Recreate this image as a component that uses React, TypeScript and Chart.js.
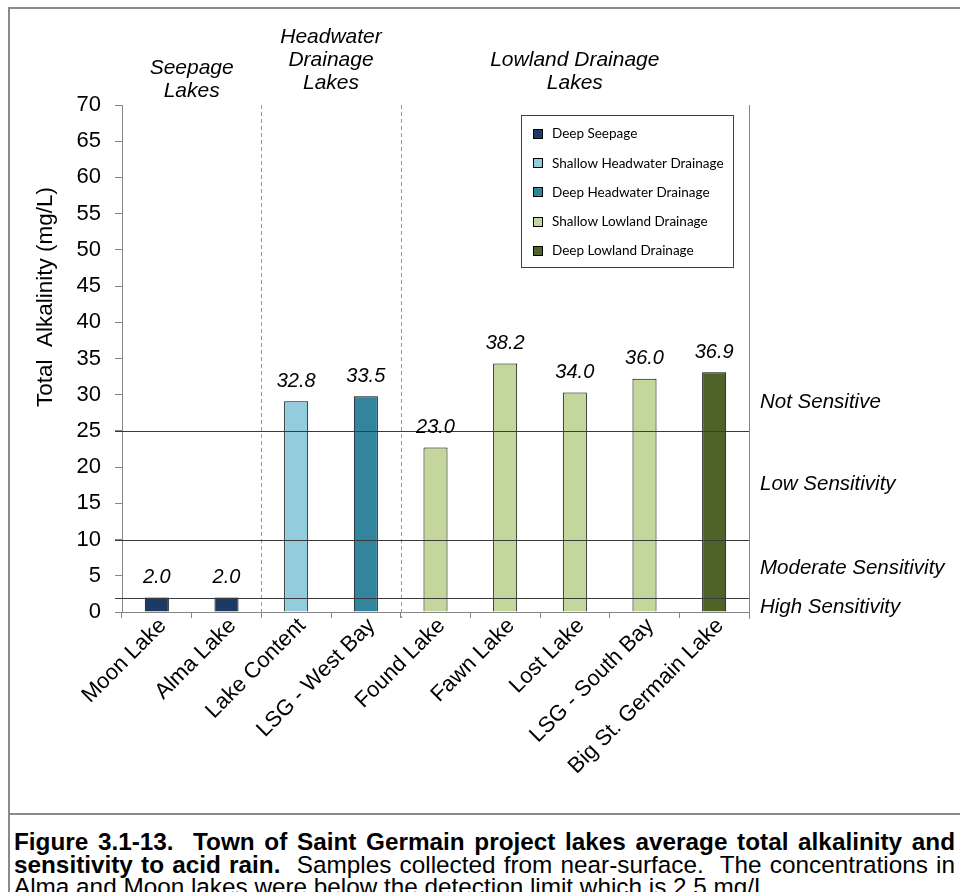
import React, { useEffect, useRef } from "react";
import { Chart, registerables } from "chart.js";

Chart.register(...registerables);

// ---------- data ----------
const categories = [
  "Moon Lake",
  "Alma Lake",
  "Lake Content",
  "LSG - West Bay",
  "Found Lake",
  "Fawn Lake",
  "Lost Lake",
  "LSG - South Bay",
  "Big St. Germain Lake",
];
// bar heights as drawn against the visible axis
const barHeights = [2.0, 2.0, 29.1, 29.8, 22.7, 34.3, 30.3, 32.2, 33.1];
// data-label texts printed above the bars
const valueLabels = ["2.0", "2.0", "32.8", "33.5", "23.0", "38.2", "34.0", "36.0", "36.9"];
const seriesNames = [
  "Deep Seepage",
  "Shallow Headwater Drainage",
  "Deep Headwater Drainage",
  "Shallow Lowland Drainage",
  "Deep Lowland Drainage",
];
const seriesOfCategory = [0, 0, 1, 2, 3, 3, 3, 3, 4];
const seriesColors = ["#1C3A63", "#93CDDD", "#31859C", "#C3D69B", "#4F6228"];
const sensitivityThresholds = [25, 10, 2];
const sensitivityLabels = ["Not Sensitive", "Low Sensitivity", "Moderate Sensitivity", "High Sensitivity"];
const groupLabels = [["Seepage", "Lakes"], ["Headwater", "Drainage", "Lakes"], ["Lowland Drainage", "Lakes"]];
const groupFirst = [0, 2, 4];
const groupLast = [1, 3, 8];
const yMin = 0;
const yMax = 70;
const yStep = 5;
const yTitle = "Total  Alkalinity (mg/L)";

const FONT = "'Liberation Sans', Arial, sans-serif";

const overlayPlugin = {
  id: "overlay",
  afterDatasetsDraw(chart: any) {
    const ctx = chart.ctx;
    const xs = chart.scales.x;
    const ys = chart.scales.y;
    const area = chart.chartArea;
    ctx.save();

    // dashed group separators
    ctx.strokeStyle = "#9A9A9A";
    ctx.lineWidth = 1;
    ctx.setLineDash([4, 3]);
    for (let g = 0; g < groupLast.length - 1; g++) {
      const x = Math.round((xs.getPixelForValue(groupLast[g]) + xs.getPixelForValue(groupLast[g] + 1)) / 2) + 0.5;
      ctx.beginPath();
      ctx.moveTo(x, area.top);
      ctx.lineTo(x, area.bottom + 6);
      ctx.stroke();
    }
    ctx.setLineDash([]);

    // right axis line
    ctx.strokeStyle = "#868686";
    ctx.beginPath();
    const rx = Math.round(area.right) + 0.5;
    ctx.moveTo(rx, area.top);
    ctx.lineTo(rx, area.bottom + 7);
    ctx.stroke();

    // sensitivity threshold lines
    ctx.strokeStyle = "#3A3A3A";
    for (const t of sensitivityThresholds) {
      const y = Math.round(ys.getPixelForValue(t)) + 0.5;
      ctx.beginPath();
      ctx.moveTo(area.left - 7, y);
      ctx.lineTo(area.right, y);
      ctx.stroke();
    }

    // value labels
    ctx.fillStyle = "#000";
    ctx.font = `italic 20px ${FONT}`;
    ctx.textAlign = "center";
    ctx.textBaseline = "middle";
    barHeights.forEach((v, i) => {
      const x = xs.getPixelForValue(i);
      const y = ys.getPixelForValue(v) - 20;
      ctx.fillText(valueLabels[i], x, y);
    });

    // group headers
    ctx.font = `italic 21px ${FONT}`;
    groupLabels.forEach((lines, g) => {
      const x = (xs.getPixelForValue(groupFirst[g]) + xs.getPixelForValue(groupLast[g])) / 2;
      const bottomY = g === 0 ? 91 : 83;
      lines.forEach((ln, k) => {
        const y = bottomY - (lines.length - 1 - k) * 23;
        ctx.fillText(ln, x, y);
      });
    });

    // sensitivity labels on the right
    ctx.textAlign = "left";
    ctx.font = `italic 20.5px ${FONT}`;
    const labelYs = [402, 484, 568, 607];
    sensitivityLabels.forEach((s, k) => {
      ctx.fillText(s, area.right + 11, labelYs[k]);
    });

    // y-axis title
    ctx.save();
    ctx.translate(46, 297);
    ctx.rotate(-Math.PI / 2);
    ctx.textAlign = "center";
    ctx.font = `22.5px ${FONT}`;
    ctx.fillText(yTitle, 0, 0);
    ctx.restore();

    // legend
    const lx = 521.5, ly = 115.5, lw = 212, lh = 152;
    ctx.fillStyle = "#fff";
    ctx.fillRect(lx, ly, lw, lh);
    ctx.strokeStyle = "#404040";
    ctx.strokeRect(lx, ly, lw, lh);
    ctx.font = `13.5px Lato, 'Open Sans', sans-serif`;
    ctx.textAlign = "left";
    seriesNames.forEach((name, k) => {
      const cy = 134 + k * 29.2;
      ctx.fillStyle = seriesColors[k];
      ctx.fillRect(533, Math.round(cy - 5), 10, 10);
      ctx.strokeStyle = "#000";
      ctx.strokeRect(533.5, Math.round(cy - 5) + 0.5, 9, 9);
      ctx.fillStyle = "#000";
      ctx.fillText(name, 552, cy);
    });

    ctx.restore();
  },
};

export default function App() {
  const ref = useRef<HTMLCanvasElement | null>(null);

  useEffect(() => {
    if (!ref.current) return;
    const datasets = seriesNames.map((name, s) => ({
      label: name,
      data: barHeights.map((v, i) => (seriesOfCategory[i] === s ? v : null)),
      backgroundColor: seriesColors[s],
      borderColor: "#000",
      borderWidth: 1,
      barPercentage: 0.345,
      categoryPercentage: 1,
      grouped: false,
    }));
    const chart = new Chart(ref.current, {
      type: "bar",
      data: { labels: categories, datasets },
      options: {
        responsive: false,
        animation: false,
        devicePixelRatio: 1,
        layout: { padding: { left: 0, top: 105, right: 211, bottom: 0 } },
        plugins: { legend: { display: false }, tooltip: { enabled: false } },
        scales: {
          x: {
            offset: true,
            grid: { display: true, offset: true, drawOnChartArea: false, drawTicks: true, tickLength: 6, color: "#868686" },
            border: { display: true, color: "#868686" },
            ticks: {
              minRotation: 45,
              maxRotation: 45,
              autoSkip: false,
              color: "#000",
              padding: -5,
              labelOffset: 6,
              font: { family: FONT, size: 22 },
            },
            afterFit: (s: any) => {
              s.height = 200;
            },
          },
          y: {
            min: yMin,
            max: yMax,
            ticks: { stepSize: yStep, color: "#000", padding: 14, font: { family: FONT, size: 22 } },
            grid: { display: true, drawOnChartArea: false, drawTicks: true, tickLength: 7, color: "#868686" },
            border: { display: true, color: "#868686" },
            afterFit: (s: any) => {
              s.width = 122;
            },
          },
        },
      },
      plugins: [overlayPlugin],
    });
    return () => chart.destroy();
  }, []);

  const capFont = "'Liberation Sans', Arial, sans-serif";
  const lineStyle: React.CSSProperties = {
    position: "absolute",
    left: 14,
    width: 941,
    height: 22.5,
    lineHeight: "22.5px",
    fontSize: 24.3,
    fontFamily: capFont,
    color: "#000",
    whiteSpace: "nowrap",
  };
  const justify: React.CSSProperties = { textAlign: "justify", textAlignLast: "justify" as any, whiteSpace: "normal" };

  return (
    <div style={{ position: "absolute", left: 0, top: 0, width: 960, height: 892, background: "#fff", overflow: "hidden" }}>
      <canvas ref={ref} width={960} height={812} style={{ position: "absolute", left: 0, top: 0, width: 960, height: 812 }} />
      <div style={{ position: "absolute", left: 8, top: 7, width: 952, height: 2, background: "#8A8A8A" }} />
      <div style={{ position: "absolute", left: 8, top: 7, width: 2, height: 885, background: "#8A8A8A" }} />
      <div style={{ position: "absolute", left: 8, top: 813, width: 952, height: 2, background: "#8A8A8A" }} />
      <div style={{ ...lineStyle, ...justify, top: 831, fontWeight: "bold" }}>
        Figure 3.1-13.&nbsp; Town of Saint Germain project lakes average total alkalinity and
      </div>
      <div style={{ ...lineStyle, ...justify, top: 854 }}>
        <b>sensitivity to acid rain.</b>&nbsp; Samples collected from near-surface.&nbsp; The concentrations in
      </div>
      <div style={{ ...lineStyle, top: 876 }}>
        Alma and Moon lakes were below the detection limit which is 2.5 mg/L.
      </div>
    </div>
  );
}
